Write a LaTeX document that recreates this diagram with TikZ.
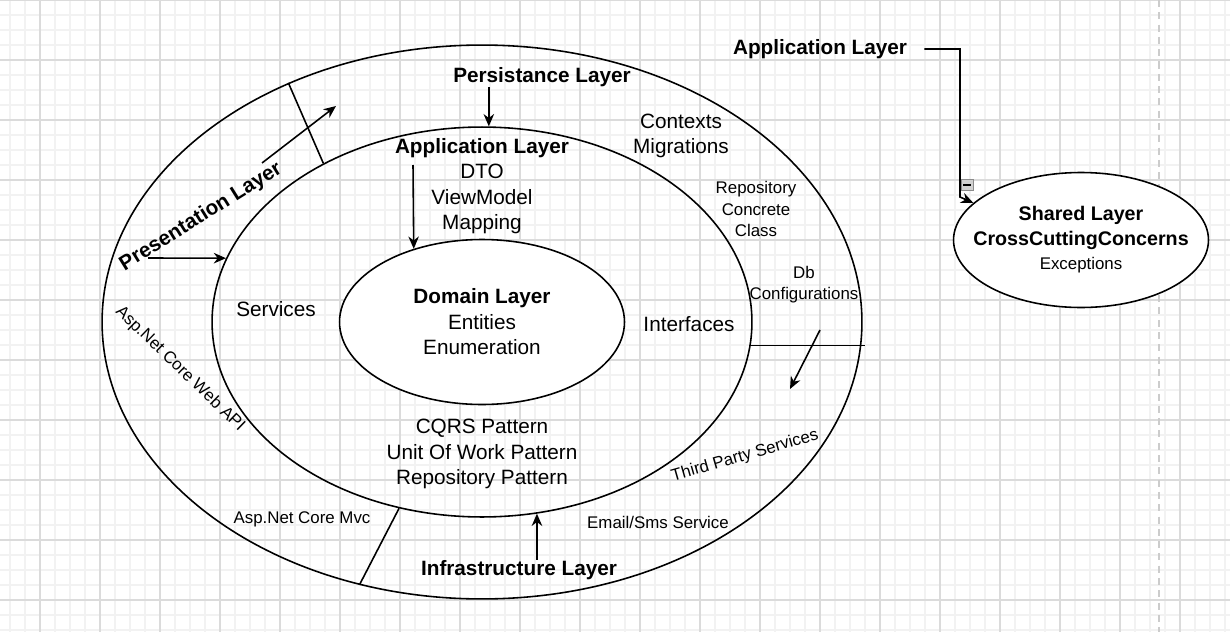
\documentclass[tikz,border=0pt]{standalone}
\usepackage{fontspec}
\setmainfont{Liberation Sans}
\usetikzlibrary{shapes.geometric,arrows.meta}

\begin{document}
\begin{tikzpicture}[x=0.02cm, y=-0.02cm,
	couche/.style={ellipse, draw, line width=0.9pt, inner sep=0pt},
	texte/.style={font=\fontsize{11.8}{14.5}\selectfont, align=center, inner sep=0pt},
	titre/.style={texte, font=\bfseries\fontsize{11.8}{14.5}\selectfont},
	petit/.style={font=\fontsize{9.6}{12}\selectfont, align=center, inner sep=0pt},
	fleche/.style={-{Stealth[length=7pt,width=6pt]}, line width=0.9pt},
	trait/.style={line width=0.9pt}]
		\useasboundingbox (0,0) rectangle (1230,632);
		%fond: quadrillage fin puis quadrillage principal
		\fill[white] (0,0) rectangle (1230,632);
		\foreach \x in {10,25,...,1225} \draw[line width=1pt, draw=black!5] (\x,0) -- (\x,632);
		\foreach \y in {0,15,...,630} \draw[line width=1pt, draw=black!5] (0,\y) -- (1230,\y);
		\foreach \x in {40,100,...,1220} \draw[line width=0.6pt, draw=black!14] (\x,0) -- (\x,632);
		\foreach \y in {0,60,...,600} \draw[line width=0.6pt, draw=black!14] (0,\y) -- (1230,\y);
		\draw[line width=1pt, draw=black!20, dash pattern=on 4pt off 3pt] (1159,0) -- (1159,632);

		%les trois couches + la couche partagee
		\node (outer) at(482,322) [couche, minimum width=15.2cm, minimum height=11.08cm] {};
		\node (middle) at(482,322) [couche, minimum width=10.8cm, minimum height=7.8cm] {};
		\node (domain) at(482,322) [couche, fill=white, minimum width=5.7cm, minimum height=3.3cm, texte] {\textbf{Domain Layer}\\Entities\\Enumeration};
		\node (shared) at(1081,240) [couche, fill=white, minimum width=5.1cm, minimum height=2.7cm] {};
		\node (shared txt) at(shared.center) [texte, font=\fontsize{11.2}{14}\selectfont] {\textbf{Shared Layer}\\\textbf{CrossCuttingConcerns}\\{\fontsize{9.6}{12}\selectfont Exceptions}};

		%textes
		\node (apptop) at(820,49) [titre] {Application Layer};
		\node (persist) at(542,77) [titre] {Persistance Layer};
		\node (appli) at(482,186) [texte] {\textbf{Application Layer}\\DTO\\ViewModel\\Mapping};
		\node (contexts) at(681,136) [texte] {Contexts\\Migrations};
		\node (repo) at(756,209) [petit] {Repository\\Concrete\\Class};
		\node (db) at(804,285) [petit] {Db\\Configurations};
		\node (interfaces) at(689,324) [texte] {Interfaces};
		\node (services) at(276,309) [texte] {Services};
		\node (patterns) at(482,454) [texte] {CQRS Pattern\\Unit Of Work Pattern\\Repository Pattern};
		\node (infra) at(519,570) [titre] {Infrastructure Layer};
		\node (email) at(658,522) [petit] {Email/Sms Service};
		\node (third) at(745,456) [petit, rotate=16] {Third Party Services};
		\node (webapi) at(180,369) [petit, rotate=-44] {Asp.Net Core Web API};
		\node (mvc) at(302,519) [petit] {Asp.Net Core Mvc};
		\node (present) at(201,217) [titre, rotate=32] {Presentation Layer};
		\node (moins) at(967,185) [draw=black!45, fill=black!18, minimum width=0.24cm, minimum height=0.22cm, inner sep=0pt] {\rule{0.15cm}{1pt}};

		%extremites libres des fleches
		\coordinate (dep appli) at (413,165);
		\coordinate (dep pres) at (148,258);
		\coordinate (dep pres2) at (262,163);
		\coordinate (fin pres2) at (336,106);
		\coordinate (dep db) at (820,330);
		\coordinate (fin db) at (790,389);

		%fleches et separations
		\draw[fleche] ([xshift=0.34cm]apptop.east) -| (960,197) -- (shared.161);
		\draw[fleche] (persist.south -| middle.88) -- (middle.88);
		\draw[fleche] (dep appli) -- (domain.133);
		\draw[fleche] (infra.north -| middle.-74) -- (middle.-74);
		\draw[fleche] (dep pres) -- (middle.166);
		\draw[fleche] (dep pres2) -- (fin pres2);
		\draw[fleche] (dep db) -- (fin db);
		\draw[trait] (outer.129.4) -- (middle.135.2);
		\draw[trait] (middle.-5) -- ([xshift=0.04cm]middle.-5 -| outer.east);
		\draw[trait] (middle.-114) -- (outer.-115.6);
\end{tikzpicture}
\end{document}
